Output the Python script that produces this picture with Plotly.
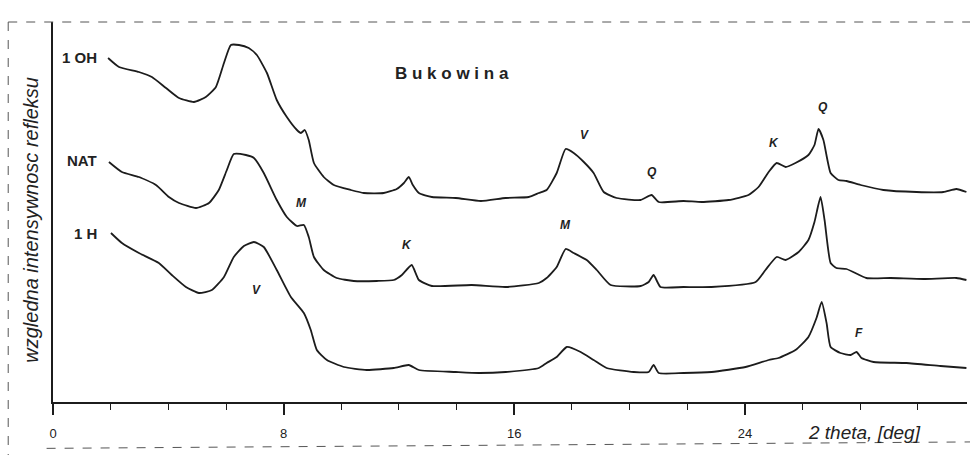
import plotly.graph_objects as go

# ---- data (2 theta in degrees, relative intensity incl. stacking offset) ----
oh_x = [1.91, 2.29, 2.98, 3.43, 3.92, 4.37, 4.89, 5.30, 5.65, 5.93, 6.17, 6.45, 6.79, 7.07, 7.42,
        7.76, 8.11, 8.46, 8.60, 8.73, 8.87, 9.05, 9.39, 9.74, 10.33, 10.78, 11.47, 11.92, 12.17,
        12.34, 12.48, 12.69, 13.14, 13.97, 14.84, 15.70, 16.50, 16.85, 17.12, 17.47, 17.78, 18.06,
        18.41, 18.75, 19.10, 19.55, 20.38, 20.76, 21.01, 21.87, 22.50, 23.43, 24.12, 24.47, 24.82,
        25.10, 25.41, 25.75, 26.20, 26.41, 26.55, 26.72, 26.97, 27.24, 27.52, 28.01, 28.80, 29.95,
        30.88, 31.33, 31.68]
oh_y = [344, 335, 330, 325, 314, 304, 300, 305, 315, 339, 357, 357, 354, 347, 329,
        302, 285, 272, 269, 272, 262, 239, 225, 217, 212, 209, 209, 213, 219,
        225, 217, 209, 205, 204, 201, 204, 205, 209, 212, 229, 253, 249,
        240, 229, 210, 204, 202, 207, 200, 201, 200, 202, 207, 215, 230,
        239, 235, 239, 247, 257, 273, 262, 229, 222, 221, 217, 212, 210,
        210, 213, 210]

nat_x = [1.94, 2.39, 2.98, 3.57, 4.02, 4.37, 4.96, 5.41, 5.75, 6.03, 6.27, 6.69, 6.97, 7.31, 7.76,
         8.11, 8.46, 8.70, 8.87, 9.05, 9.39, 9.84, 10.43, 11.23, 11.82, 12.10, 12.44, 12.69, 13.14,
         14.52, 15.70, 16.85, 17.12, 17.47, 17.78, 18.06, 18.51, 18.86, 19.34, 20.38, 20.66, 20.83,
         21.07, 21.87, 22.84, 24.37, 24.71, 25.10, 25.41, 25.86, 26.20, 26.41, 26.62, 26.76, 26.97,
         27.17, 27.52, 28.21, 29.05, 30.19, 31.33, 31.68]
nat_y = [240, 230, 225, 217, 205, 199, 194, 199, 212, 232, 248, 247, 244, 229, 202,
         185, 176, 177, 165, 145, 132, 124, 121, 121, 122, 127, 137, 122, 116,
         117, 115, 119, 124, 135, 153, 149, 142, 132, 117, 116, 120, 127,
         115, 115, 115, 120, 132, 145, 142, 150, 162, 180, 205, 182, 139,
         134, 133, 124, 124, 123, 124, 122]

h_x = [2.01, 2.39, 2.98, 3.67, 4.12, 4.61, 5.06, 5.51, 5.93, 6.27, 6.62, 6.97, 7.31, 7.76, 8.25,
       8.70, 8.94, 9.15, 9.50, 10.09, 10.88, 11.82, 12.34, 12.69, 13.97, 14.77, 15.70, 16.85,
       17.12, 17.47, 17.82, 18.30, 18.75, 19.20, 20.14, 20.66, 20.83, 21.01, 21.87, 22.84, 24.02,
       24.82, 25.16, 25.75, 26.20, 26.48, 26.66, 26.83, 26.97, 27.31, 27.66, 27.87, 28.04, 28.46,
       29.60, 30.78, 31.68]
h_y = [169, 159, 149, 139, 127, 115, 109, 112, 125, 145, 156, 160, 155, 132, 105,
       89, 72, 52, 42, 35, 32, 34, 37, 32, 30, 29, 30, 34,
       39, 45, 55, 50, 42, 34, 30, 30, 37, 29, 29, 30, 35,
       42, 44, 52, 65, 84, 100, 79, 55, 49, 47, 50, 44, 40,
       39, 36, 34]

series_names = ["1 OH", "NAT", "1 H"]
series_label_y = [345, 242, 169]

peak_labels = ["M", "V", "K", "M", "V", "Q", "K", "Q", "F"]
peak_x = [8.63, 7.07, 12.27, 17.78, 18.44, 20.76, 24.99, 26.72, 27.94]
peak_y = [199, 112, 157, 177, 267, 230, 259, 295, 69]

x_tick_vals = [0, 8, 16, 24]
x_tick_text = ["0", "8", "16", "24"]

# ---- figure ----
LINE = "#1c1c1c"
FONT = "Liberation Sans, Arial"
fig = go.Figure()
for xs, ys, nm in [(oh_x, oh_y, "1 OH"), (nat_x, nat_y, "NAT"), (h_x, h_y, "1 H")]:
    fig.add_trace(go.Scatter(x=xs, y=ys, mode="lines", name=nm,
                             line=dict(color=LINE, width=1.8, shape="spline", smoothing=0.5),
                             showlegend=False))

ann = []
for nm, yv in zip(series_names, series_label_y):
    ann.append(dict(x=1.6, y=yv, xref="x", yref="y", text="<b>" + nm + "</b>",
                    showarrow=False, xanchor="right", yanchor="middle",
                    font=dict(family=FONT, size=15, color="#222")))
for t, xv, yv in zip(peak_labels, peak_x, peak_y):
    ann.append(dict(x=xv, y=yv, xref="x", yref="y", text="<b><i>" + t + "</i></b>",
                    showarrow=False, font=dict(family=FONT, size=12, color="#222")))
ann.append(dict(x=13.83, y=329, xref="x", yref="y", text="<b>B u k o w i n a</b>",
                showarrow=False, font=dict(family=FONT, size=17, color="#222")))
ann.append(dict(x=-0.025, y=0.48, xref="paper", yref="paper", text="<i>wzgledna intensywnosc refleksu</i>",
                showarrow=False, textangle=-90, xanchor="center", yanchor="middle",
                font=dict(family=FONT, size=20, color="#222")))
ann.append(dict(x=0.888, y=-0.079, xref="paper", yref="paper", text="<i>2 theta, [deg]</i>",
                showarrow=False, xanchor="center", yanchor="middle",
                font=dict(family=FONT, size=19, color="#222")))

dash = dict(color="#555", width=1, dash="dash")
shapes = [
    dict(type="line", xref="paper", yref="paper", x0=-0.049, y0=1.0, x1=1.01, y1=1.0, line=dash),
    dict(type="line", xref="paper", yref="paper", x0=-0.049, y0=1.0, x1=-0.049, y1=-0.14, line=dash),
    dict(type="line", xref="paper", yref="paper", x0=-0.007, y0=-0.122, x1=1.01, y1=-0.105, line=dash),
]

fig.update_layout(
    width=970, height=455,
    margin=dict(l=53, r=3, t=22, b=53),
    paper_bgcolor="white", plot_bgcolor="white",
    annotations=ann, shapes=shapes,
    xaxis=dict(range=[0, 31.7], showgrid=False, zeroline=False, showline=True,
               linecolor=LINE, linewidth=1.5, ticks="outside", ticklen=11, tickwidth=1.5,
               tickcolor=LINE, tickmode="array", tickvals=x_tick_vals, ticktext=x_tick_text,
               ticklabelstandoff=8,
               tickfont=dict(family=FONT, size=13, color="#222"),
               minor=dict(dtick=2, tick0=0, ticks="outside", ticklen=6, tickwidth=1.3, tickcolor=LINE,
                          showgrid=False)),
    yaxis=dict(range=[0, 380], showgrid=False, zeroline=False, showline=True,
               linecolor=LINE, linewidth=1.5, showticklabels=False, ticks=""),
)

fig.write_html("out.html")
